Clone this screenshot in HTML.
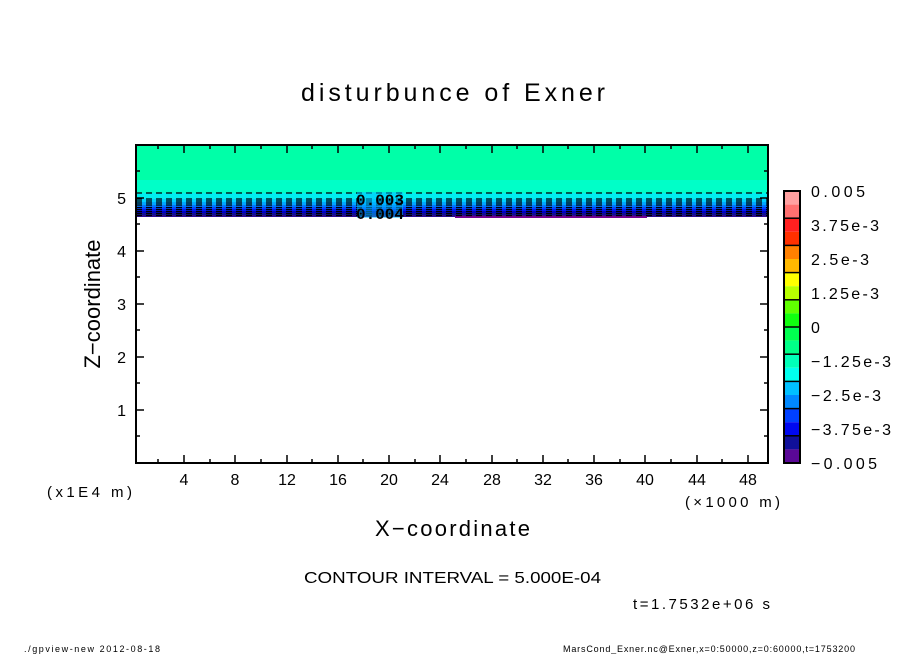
<!DOCTYPE html>
<html><head><meta charset="utf-8"><style>
body{margin:0;background:#fff;}
svg{display:block;font-family:"Liberation Sans",sans-serif;}
</style></head><body>
<svg width="904" height="654" viewBox="0 0 904 654" xmlns="http://www.w3.org/2000/svg">
<rect width="904" height="654" fill="#fff"/>
<text x="301" y="101" font-size="25" textLength="304" lengthAdjust="spacing">disturbunce of Exner</text>
<!-- field -->
<rect x="136" y="145" width="632" height="38" fill="#00ffa8"/>
<rect x="136" y="180" width="632" height="13" fill="#00ffc8"/>
<rect x="136" y="193" width="632" height="6" fill="#00f0f0"/>
<rect x="136" y="199" width="632" height="3" fill="#00d0ff"/>
<rect x="136" y="202" width="632" height="3" fill="#00a8ff"/>
<rect x="136" y="205" width="632" height="2" fill="#0078ff"/>
<rect x="136" y="207" width="632" height="2" fill="#0048ff"/>
<rect x="136" y="209" width="632" height="2" fill="#0018f0"/>
<rect x="136" y="211" width="632" height="2" fill="#0000c0"/>
<rect x="136" y="213" width="632" height="2" fill="#101090"/>
<rect x="136" y="215" width="632" height="2" fill="#2a0a90"/>
<rect x="455" y="216" width="192" height="2" fill="#700090"/>
<g stroke="#000" stroke-width="1.2" stroke-dasharray="6,4">
<line x1="136" y1="193" x2="768" y2="193"/>
<line x1="136" y1="199" x2="768" y2="199"/>
<line x1="136" y1="201" x2="768" y2="201"/>
<line x1="136" y1="203" x2="768" y2="203"/>
<line x1="136" y1="205" x2="768" y2="205"/>
<line x1="136" y1="207.5" x2="768" y2="207.5"/>
<line x1="136" y1="209.5" x2="768" y2="209.5"/>
<line x1="136" y1="211.5" x2="768" y2="211.5"/>
<line x1="136" y1="213.5" x2="768" y2="213.5"/>
<line x1="136" y1="215.5" x2="768" y2="215.5"/>
</g>
<rect x="357" y="192" width="46" height="26" fill="#00c0ff" opacity="0.5"/>
<text x="380" y="205" font-size="16" font-weight="bold" text-anchor="middle" font-family="Liberation Mono,monospace">0.003</text>
<text x="380" y="219" font-size="16" font-weight="bold" text-anchor="middle" font-family="Liberation Mono,monospace">0.004</text>
<!-- frame -->
<rect x="136" y="145" width="632" height="318" fill="none" stroke="#000" stroke-width="2"/>
<g stroke="#000" stroke-width="1.5">
<line x1="184" y1="463" x2="184" y2="455"/><line x1="184" y1="145" x2="184" y2="153"/>
<line x1="235" y1="463" x2="235" y2="455"/><line x1="235" y1="145" x2="235" y2="153"/>
<line x1="287" y1="463" x2="287" y2="455"/><line x1="287" y1="145" x2="287" y2="153"/>
<line x1="338" y1="463" x2="338" y2="455"/><line x1="338" y1="145" x2="338" y2="153"/>
<line x1="389" y1="463" x2="389" y2="455"/><line x1="389" y1="145" x2="389" y2="153"/>
<line x1="440" y1="463" x2="440" y2="455"/><line x1="440" y1="145" x2="440" y2="153"/>
<line x1="492" y1="463" x2="492" y2="455"/><line x1="492" y1="145" x2="492" y2="153"/>
<line x1="543" y1="463" x2="543" y2="455"/><line x1="543" y1="145" x2="543" y2="153"/>
<line x1="594" y1="463" x2="594" y2="455"/><line x1="594" y1="145" x2="594" y2="153"/>
<line x1="645" y1="463" x2="645" y2="455"/><line x1="645" y1="145" x2="645" y2="153"/>
<line x1="697" y1="463" x2="697" y2="455"/><line x1="697" y1="145" x2="697" y2="153"/>
<line x1="748" y1="463" x2="748" y2="455"/><line x1="748" y1="145" x2="748" y2="153"/>
<line x1="158" y1="463" x2="158" y2="459"/><line x1="158" y1="145" x2="158" y2="149"/>
<line x1="210" y1="463" x2="210" y2="459"/><line x1="210" y1="145" x2="210" y2="149"/>
<line x1="261" y1="463" x2="261" y2="459"/><line x1="261" y1="145" x2="261" y2="149"/>
<line x1="312" y1="463" x2="312" y2="459"/><line x1="312" y1="145" x2="312" y2="149"/>
<line x1="363" y1="463" x2="363" y2="459"/><line x1="363" y1="145" x2="363" y2="149"/>
<line x1="415" y1="463" x2="415" y2="459"/><line x1="415" y1="145" x2="415" y2="149"/>
<line x1="466" y1="463" x2="466" y2="459"/><line x1="466" y1="145" x2="466" y2="149"/>
<line x1="517" y1="463" x2="517" y2="459"/><line x1="517" y1="145" x2="517" y2="149"/>
<line x1="568" y1="463" x2="568" y2="459"/><line x1="568" y1="145" x2="568" y2="149"/>
<line x1="620" y1="463" x2="620" y2="459"/><line x1="620" y1="145" x2="620" y2="149"/>
<line x1="671" y1="463" x2="671" y2="459"/><line x1="671" y1="145" x2="671" y2="149"/>
<line x1="722" y1="463" x2="722" y2="459"/><line x1="722" y1="145" x2="722" y2="149"/>
<line x1="136" y1="410" x2="144" y2="410"/><line x1="768" y1="410" x2="760" y2="410"/>
<line x1="136" y1="357" x2="144" y2="357"/><line x1="768" y1="357" x2="760" y2="357"/>
<line x1="136" y1="304" x2="144" y2="304"/><line x1="768" y1="304" x2="760" y2="304"/>
<line x1="136" y1="251" x2="144" y2="251"/><line x1="768" y1="251" x2="760" y2="251"/>
<line x1="136" y1="198" x2="144" y2="198"/><line x1="768" y1="198" x2="760" y2="198"/>
<line x1="136" y1="436" x2="140" y2="436"/><line x1="768" y1="436" x2="764" y2="436"/>
<line x1="136" y1="383" x2="140" y2="383"/><line x1="768" y1="383" x2="764" y2="383"/>
<line x1="136" y1="330" x2="140" y2="330"/><line x1="768" y1="330" x2="764" y2="330"/>
<line x1="136" y1="277" x2="140" y2="277"/><line x1="768" y1="277" x2="764" y2="277"/>
<line x1="136" y1="224" x2="140" y2="224"/><line x1="768" y1="224" x2="764" y2="224"/>
<line x1="136" y1="171" x2="140" y2="171"/><line x1="768" y1="171" x2="764" y2="171"/>
</g>
<g font-size="16" text-anchor="middle">
<text x="184" y="485">4</text><text x="235" y="485">8</text><text x="287" y="485">12</text>
<text x="338" y="485">16</text><text x="389" y="485">20</text><text x="440" y="485">24</text>
<text x="492" y="485">28</text><text x="543" y="485">32</text><text x="594" y="485">36</text>
<text x="645" y="485">40</text><text x="697" y="485">44</text><text x="748" y="485">48</text>
</g>
<g font-size="16" text-anchor="end">
<text x="126" y="416">1</text><text x="126" y="363">2</text><text x="126" y="310">3</text>
<text x="126" y="257">4</text><text x="126" y="204">5</text>
</g>
<text x="47" y="497" font-size="15" textLength="85" lengthAdjust="spacing">(x1E4 m)</text>
<text x="685" y="507" font-size="15" textLength="95" lengthAdjust="spacing">(×1000 m)</text>
<text x="375" y="536" font-size="22" textLength="155" lengthAdjust="spacing">X−coordinate</text>
<text transform="translate(100,304) rotate(-90)" font-size="22" text-anchor="middle">Z−coordinate</text>
<g>
<rect x="784" y="191.0" width="16" height="13.6" fill="#ffa0a0"/>
<rect x="784" y="204.6" width="16" height="13.6" fill="#ff7070"/>
<rect x="784" y="218.2" width="16" height="13.6" fill="#ff2020"/>
<rect x="784" y="231.8" width="16" height="13.6" fill="#ff3000"/>
<rect x="784" y="245.4" width="16" height="13.6" fill="#ff8000"/>
<rect x="784" y="259.0" width="16" height="13.6" fill="#ffb800"/>
<rect x="784" y="272.6" width="16" height="13.6" fill="#ffff00"/>
<rect x="784" y="286.2" width="16" height="13.6" fill="#b8ff00"/>
<rect x="784" y="299.8" width="16" height="13.6" fill="#60ff00"/>
<rect x="784" y="313.4" width="16" height="13.6" fill="#10ff10"/>
<rect x="784" y="327.0" width="16" height="13.6" fill="#00ff50"/>
<rect x="784" y="340.6" width="16" height="13.6" fill="#00ff88"/>
<rect x="784" y="354.2" width="16" height="13.6" fill="#00ffb8"/>
<rect x="784" y="367.8" width="16" height="13.6" fill="#00ffee"/>
<rect x="784" y="381.4" width="16" height="13.6" fill="#00c0ff"/>
<rect x="784" y="395.0" width="16" height="13.6" fill="#0088ff"/>
<rect x="784" y="408.6" width="16" height="13.6" fill="#0040ff"/>
<rect x="784" y="422.2" width="16" height="13.6" fill="#0008f0"/>
<rect x="784" y="435.8" width="16" height="13.6" fill="#10109a"/>
<rect x="784" y="449.4" width="16" height="13.6" fill="#5a0896"/>
</g>
<g stroke="#000" stroke-width="1.5">
<line x1="784" y1="218.2" x2="800" y2="218.2"/><line x1="784" y1="245.4" x2="800" y2="245.4"/>
<line x1="784" y1="272.6" x2="800" y2="272.6"/><line x1="784" y1="299.8" x2="800" y2="299.8"/>
<line x1="784" y1="327" x2="800" y2="327"/><line x1="784" y1="354.2" x2="800" y2="354.2"/>
<line x1="784" y1="381.4" x2="800" y2="381.4"/><line x1="784" y1="408.6" x2="800" y2="408.6"/>
<line x1="784" y1="435.8" x2="800" y2="435.8"/>
</g>
<rect x="784" y="191" width="16" height="272" fill="none" stroke="#000" stroke-width="2"/>
<g font-size="16">
<text x="811" y="197" textLength="54" lengthAdjust="spacing">0.005</text>
<text x="811" y="231" textLength="68" lengthAdjust="spacing">3.75e-3</text>
<text x="811" y="265" textLength="58" lengthAdjust="spacing">2.5e-3</text>
<text x="811" y="299" textLength="68" lengthAdjust="spacing">1.25e-3</text>
<text x="811" y="333">0</text>
<text x="811" y="367" textLength="80" lengthAdjust="spacing">−1.25e-3</text>
<text x="811" y="401" textLength="70" lengthAdjust="spacing">−2.5e-3</text>
<text x="811" y="435" textLength="80" lengthAdjust="spacing">−3.75e-3</text>
<text x="811" y="469" textLength="66" lengthAdjust="spacing">−0.005</text>
</g>
<text x="304" y="583" font-size="16" textLength="297" lengthAdjust="spacingAndGlyphs">CONTOUR INTERVAL = 5.000E-04</text>
<text x="633" y="609" font-size="15" textLength="137" lengthAdjust="spacing">t=1.7532e+06 s</text>
<text x="24" y="652" font-size="9" textLength="136" lengthAdjust="spacing">./gpview-new  2012-08-18</text>
<text x="563" y="652" font-size="9" textLength="292" lengthAdjust="spacing">MarsCond_Exner.nc@Exner,x=0:50000,z=0:60000,t=1753200</text>
</svg>
</body></html>
